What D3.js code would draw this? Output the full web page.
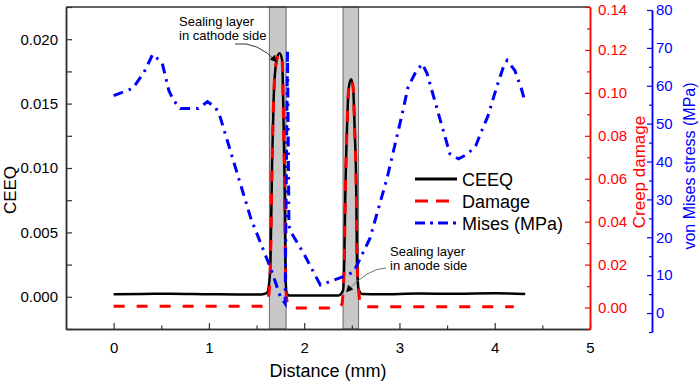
<!DOCTYPE html>
<html>
<head>
<meta charset="utf-8">
<script src="https://cdn.jsdelivr.net/npm/d3@7"></script>
<style>
  body { margin: 0; background: #fff; }
  #chart { width: 699px; height: 384px; }
  text { font-family: "Liberation Sans", Arial, sans-serif; }
</style>
</head>
<body>
<div id="chart"></div>
<script>
// CEEQ (left axis)
const ceeqX = [0, 0.3, 0.6, 1.0, 1.3, 1.55, 1.61, 1.628, 1.646, 1.663, 1.68, 1.705, 1.74, 1.768, 1.785, 1.796, 1.803, 1.813, 1.84, 2.0, 2.2, 2.36, 2.408, 2.421, 2.432, 2.45, 2.466, 2.492, 2.513, 2.529, 2.547, 2.554, 2.571, 2.607, 2.8, 3.2, 3.6, 4.0, 4.32];
const ceeqY = [0.0002, 0.00022, 0.00024, 0.0002, 0.00018, 0.00018, 0.0003, 0.0008, 0.0026, 0.0104, 0.0155, 0.0181, 0.0189, 0.0184, 0.013, 0.0078, 0.0026, 0.0004, 0.0001, 0.0001, 0.0001, 0.0001, 0.0005, 0.0029, 0.0081, 0.0132, 0.0161, 0.0169, 0.0163, 0.0132, 0.0081, 0.0029, 0.0006, 0.00022, 0.0002, 0.00025, 0.00024, 0.00027, 0.00022];

// creep damage (red axis)
const damageX = [0, 0.8, 1.55, 1.6, 1.628, 1.646, 1.663, 1.68, 1.705, 1.74, 1.768, 1.785, 1.796, 1.803, 1.813, 1.83, 1.87, 2.1, 2.35, 2.395, 2.408, 2.421, 2.432, 2.45, 2.466, 2.492, 2.513, 2.529, 2.547, 2.554, 2.571, 2.59, 2.63, 3.4, 4.2];
const damageY = [0.0006, 0.0006, 0.0006, 0.0015, 0.0058, 0.0207, 0.0673, 0.0982, 0.1137, 0.1184, 0.1153, 0.0827, 0.0516, 0.0207, 0.0058, 0.001, -0.0002, -0.0002, -0.0002, 0.0015, 0.0068, 0.0221, 0.0533, 0.0842, 0.1013, 0.1063, 0.1028, 0.0842, 0.0533, 0.0221, 0.0082, 0.002, 0.0004, 0.0004, 0.0004];

// von Mises stress, MPa (blue axis)
const misesX = [0, 0.2, 0.32, 0.41, 0.51, 0.58, 0.63, 0.7, 0.89, 0.985, 1.07, 1.12, 1.21, 1.44, 1.65, 1.75, 1.8, 1.825, 1.84, 1.87, 2.0, 2.17, 2.41, 2.52, 2.69, 2.87, 3.02, 3.09, 3.17, 3.24, 3.29, 3.35, 3.43, 3.53, 3.62, 3.71, 3.8, 3.85, 3.93, 4.02, 4.09, 4.13, 4.21, 4.28, 4.32];
const misesY = [57.4, 59.3, 63.6, 68.3, 66.0, 58.7, 56.1, 54.0, 54.0, 55.8, 54.3, 51.6, 44.1, 25.0, 11.7, 4.3, 2.5, 69.4, 23.0, 21.0, 15.5, 7.4, 9.6, 10.9, 19.7, 35.6, 51.6, 59.6, 63.6, 65.8, 63.2, 57.9, 50.8, 42.0, 40.7, 41.9, 44.1, 47.3, 52.1, 59.6, 64.9, 66.7, 64.1, 59.2, 55.6];

// sealing layers (mm)
const layerStart = [1.635, 2.408];
const layerEnd = [1.81, 2.571];

const xTicks = [0, 1, 2, 3, 4, 5];
const xMinor = [0.5, 1.5, 2.5, 3.5, 4.5];
const ceeqTicks = [0, 0.005, 0.01, 0.015, 0.02];
const ceeqMinor = [-0.0025, 0.0025, 0.0075, 0.0125, 0.0175, 0.0225];
const damageTicks = [0, 0.02, 0.04, 0.06, 0.08, 0.1, 0.12, 0.14];
const damageMinor = [-0.01, 0.01, 0.03, 0.05, 0.07, 0.09, 0.11, 0.13];
const misesTicks = [0, 10, 20, 30, 40, 50, 60, 70, 80];
const misesMinor = [-5, 5, 15, 25, 35, 45, 55, 65, 75];

const legendNames = ["CEEQ", "Damage", "Mises (MPa)"];

(function() {
  const width = 699;
  const height = 384;
  const margin = { top: 7, right: 109, bottom: 55, left: 66 };
  const misesAxisX = 652;

  const svg = d3.select("#chart")
    .append("svg")
    .attr("width", width)
    .attr("height", height);

  const x = d3.scaleLinear().domain([-0.5, 5]).range([margin.left, width - margin.right]);
  const yL = d3.scaleLinear().domain([-0.0025, 0.0225]).range([height - margin.bottom, margin.top]);
  const yR = d3.scaleLinear().domain([-0.01, 0.14]).range([height - margin.bottom, margin.top]);
  const yM = d3.scaleLinear().domain([-5, 80]).range([332, 10]);

  // gray sealing layer bands
  svg.selectAll(".layer")
    .data(layerStart)
    .join("rect")
    .attr("x", d => x(d))
    .attr("y", margin.top)
    .attr("width", (d, i) => x(layerEnd[i]) - x(d))
    .attr("height", height - margin.bottom - margin.top)
    .style("fill", "#c8c8c8")
    .style("stroke", "#6a6a6a")
    .style("stroke-width", 1);

  // top frame line
  svg.append("line")
    .attr("x1", margin.left).attr("x2", width - margin.right)
    .attr("y1", margin.top).attr("y2", margin.top)
    .style("stroke", "#333").style("stroke-width", 1.5);

  const styleAxis = (g, color) => {
    g.select(".domain").style("stroke", color).style("stroke-width", 1.5);
    g.selectAll(".tick line").style("stroke", color).style("stroke-width", 1.2);
    g.selectAll("text").style("fill", color).style("font-size", "15px")
      .style("font-family", '"Liberation Sans", Arial, sans-serif');
  };

  // bottom axis
  const gx = svg.append("g")
    .attr("transform", `translate(0, ${height - margin.bottom})`)
    .call(d3.axisBottom(x).tickValues(xTicks).tickFormat(d3.format("d")).tickSizeInner(-6).tickSizeOuter(0).tickPadding(13));
  styleAxis(gx, "#333");
  gx.selectAll("text").style("fill", "#000");
  const gxm = svg.append("g")
    .attr("transform", `translate(0, ${height - margin.bottom})`)
    .call(d3.axisBottom(x).tickValues(xMinor).tickFormat("").tickSizeInner(-3.5).tickSizeOuter(0));
  styleAxis(gxm, "#333");

  // left axis
  const gl = svg.append("g")
    .attr("transform", `translate(${margin.left}, 0)`)
    .call(d3.axisLeft(yL).tickValues(ceeqTicks).tickFormat(d3.format(".3f")).tickSizeInner(-6).tickSizeOuter(0).tickPadding(8));
  styleAxis(gl, "#333");
  gl.selectAll("text").style("fill", "#000");
  const glm = svg.append("g")
    .attr("transform", `translate(${margin.left}, 0)`)
    .call(d3.axisLeft(yL).tickValues(ceeqMinor).tickFormat("").tickSizeInner(-6).tickSizeOuter(0));
  styleAxis(glm, "#333");

  // red damage axis
  const gr = svg.append("g")
    .attr("transform", `translate(${width - margin.right}, 0)`)
    .call(d3.axisRight(yR).tickValues(damageTicks).tickFormat(d3.format(".2f")).tickSizeInner(-5).tickSizeOuter(0).tickPadding(8));
  styleAxis(gr, "#ff0000");
  gr.selectAll("text").filter(d => d === 0.14).attr("dy", "0.5em");
  const grm = svg.append("g")
    .attr("transform", `translate(${width - margin.right}, 0)`)
    .call(d3.axisRight(yR).tickValues(damageMinor).tickFormat("").tickSizeInner(-3).tickSizeOuter(0));
  styleAxis(grm, "#ff0000");

  // blue mises axis
  const gb = svg.append("g")
    .attr("transform", `translate(${misesAxisX}, 0)`)
    .call(d3.axisRight(yM).tickValues(misesTicks).tickSizeInner(-5).tickSizeOuter(0).tickPadding(4));
  styleAxis(gb, "#0000ff");
  const gbm = svg.append("g")
    .attr("transform", `translate(${misesAxisX}, 0)`)
    .call(d3.axisRight(yM).tickValues(misesMinor).tickFormat("").tickSizeInner(-3).tickSizeOuter(0));
  styleAxis(gbm, "#0000ff");

  // axis titles
  svg.append("text")
    .attr("transform", "translate(16, 190) rotate(-90)")
    .attr("text-anchor", "middle")
    .style("font-size", "17px")
    .text("CEEQ");
  svg.append("text")
    .attr("transform", "translate(645, 172) rotate(-90)")
    .attr("text-anchor", "middle")
    .style("font-size", "17px")
    .style("fill", "#ff0000")
    .text("Creep damage");
  svg.append("text")
    .attr("transform", "translate(695, 166) rotate(-90)")
    .attr("text-anchor", "middle")
    .style("font-size", "16px")
    .style("fill", "#0000ff")
    .text("von Mises stress (MPa)");
  svg.append("text")
    .attr("x", x(2.25))
    .attr("y", 377)
    .attr("text-anchor", "middle")
    .style("font-size", "18px")
    .text("Distance (mm)");

  // curves
  const ceeqLine = d3.line().x(d => x(d[0])).y(d => yL(d[1])).curve(d3.curveMonotoneX);
  const damageLine = d3.line().x(d => x(d[0])).y(d => yR(d[1])).curve(d3.curveMonotoneX);
  const misesLine = d3.line().x(d => x(d[0])).y(d => yM(d[1]));

  svg.append("path")
    .datum(d3.zip(ceeqX, ceeqY))
    .attr("d", ceeqLine)
    .style("fill", "none").style("stroke", "#000").style("stroke-width", 2.5);

  svg.append("path")
    .datum(d3.zip(damageX, damageY))
    .attr("d", damageLine)
    .style("fill", "none").style("stroke", "#ff0000").style("stroke-width", 3)
    .style("stroke-dasharray", "11,12");

  svg.append("path")
    .datum(d3.zip(misesX, misesY))
    .attr("d", misesLine)
    .style("fill", "none").style("stroke", "#0000ff").style("stroke-width", 3)
    .style("stroke-dasharray", "10,6,2.5,6");

  // legend
  const legend = svg.append("g").attr("transform", "translate(415, 179)");
  const legendDash = [null, "13,8", "10,5,3,5"];
  const legendColor = ["#000", "#ff0000", "#0000ff"];
  legendNames.forEach((name, i) => {
    legend.append("line")
      .attr("x1", 0).attr("x2", 42)
      .attr("y1", i * 22).attr("y2", i * 22)
      .style("stroke", legendColor[i]).style("stroke-width", 3)
      .style("stroke-dasharray", legendDash[i]);
    legend.append("text")
      .attr("x", 47).attr("y", i * 22 + 6.5)
      .style("font-size", "18px")
      .text(name);
  });

  // annotations
  svg.append("defs").append("marker")
    .attr("id", "arrow")
    .attr("viewBox", "0 0 10 10")
    .attr("refX", 10).attr("refY", 5)
    .attr("markerWidth", 9).attr("markerHeight", 7)
    .attr("markerUnits", "userSpaceOnUse")
    .attr("orient", "auto")
    .append("path").attr("d", "M0,0L10,5L0,10Z").style("fill", "#000");

  const note = (lines, tx, ty) => {
    const t = svg.append("text").attr("x", tx).attr("y", ty).style("font-size", "13px");
    lines.forEach((l, i) => t.append("tspan").attr("x", tx).attr("dy", i ? 14 : 0).text(l));
  };
  note(["Sealing layer", "in cathode side"], 179, 26);
  note(["Sealing layer", "in anode side"], 390, 256);

  svg.append("path")
    .attr("d", `M235,44 Q258,41 ${x(1.715)},${yL(0.0182)}`)
    .attr("marker-end", "url(#arrow)")
    .style("fill", "none").style("stroke", "#333").style("stroke-width", 1);
  svg.append("path")
    .attr("d", `M386,268 Q368,268 ${x(2.44)},${yL(0.00035)}`)
    .attr("marker-end", "url(#arrow)")
    .style("fill", "none").style("stroke", "#777").style("stroke-width", 1);
})();
</script>
</body>
</html>
